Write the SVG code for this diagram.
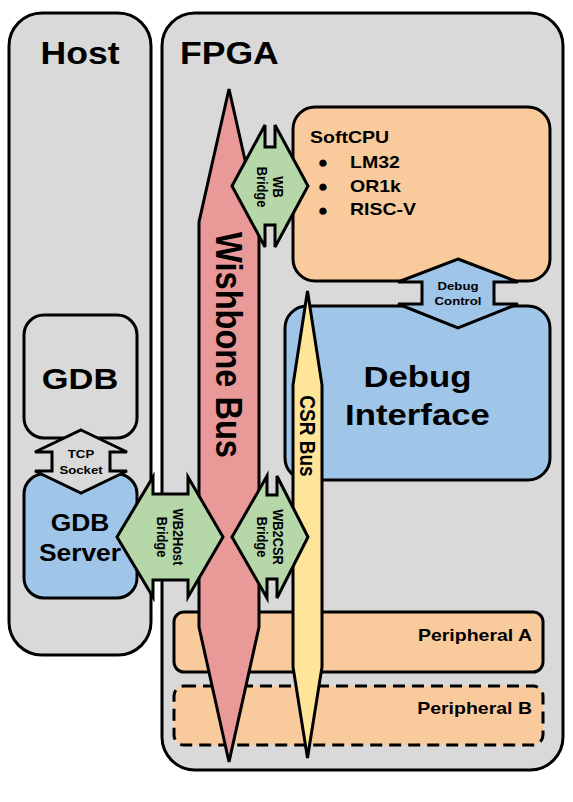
<svg xmlns="http://www.w3.org/2000/svg" width="573" height="802" viewBox="0 0 573 802">
<style>
.s{stroke:#000;stroke-width:3;stroke-linejoin:miter}
.gray{fill:#d9d9d9}
.peach{fill:#f9cb9c}
.blue{fill:#9fc5e8}
.green{fill:#b6d7a8}
.pink{fill:#ea9999}
.yellow{fill:#ffe599}
text{font-family:"Liberation Sans",Arial,Helvetica,sans-serif;font-weight:bold;fill:#000}
.m{text-anchor:middle}
.e{text-anchor:end}
.b{font-size:17px;font-weight:normal;text-anchor:middle}
</style>
<rect width="573" height="802" fill="#fff"/>
<g id="host">
<rect class="s gray" x="9" y="13" width="142" height="642" rx="33"/>
<text class="m" font-size="31" transform="translate(80,64) scale(1.147,1)">Host</text>
</g>
<g id="fpga">
<rect class="s gray" x="162" y="13" width="401" height="757" rx="33"/>
<text font-size="31" transform="translate(180,64) scale(1.147,1)">FPGA</text>
</g>
<g id="gdb">
<rect class="s gray" x="24" y="315" width="113" height="123" rx="20"/>
<text class="m" font-size="30" transform="translate(80,389) scale(1.147,1)">GDB</text>
</g>
<g id="gdb-server">
<rect class="s blue" x="24" y="474" width="113" height="124" rx="20"/>
<text class="m" font-size="23" transform="translate(80,531) scale(1.147,1)">GDB</text>
<text class="m" font-size="23" transform="translate(80,561) scale(1.147,1)">Server</text>
</g>
<g id="softcpu">
<rect class="s peach" x="293" y="107" width="257" height="174" rx="22"/>
<text font-size="17" transform="translate(310,143) scale(1.147,1)">SoftCPU</text>
<text class="b" x="323" y="168">●</text>
<text font-size="17" transform="translate(350,168) scale(1.147,1)">LM32</text>
<text class="b" x="323" y="192">●</text>
<text font-size="17" transform="translate(350,192) scale(1.147,1)">OR1k</text>
<text class="b" x="323" y="216">●</text>
<text font-size="17" transform="translate(350,215) scale(1.147,1)">RISC-V</text>
</g>
<g id="debug-interface">
<rect class="s blue" x="285" y="306" width="265" height="174" rx="22"/>
<text class="m" font-size="30.3" transform="translate(417.5,387) scale(1.147,1)">Debug</text>
<text class="m" font-size="30.3" transform="translate(417.5,425) scale(1.147,1)">Interface</text>
</g>
<g id="peripheral-a">
<rect class="s peach" x="174" y="612" width="369" height="60" rx="10"/>
<text class="e" font-size="17" transform="translate(532,641) scale(1.147,1)">Peripheral A</text>
</g>
<g id="peripheral-b">
<rect class="s peach" x="174" y="686" width="369" height="59" rx="10" stroke-dasharray="12 7"/>
<text class="e" font-size="17" transform="translate(532,714) scale(1.147,1)">Peripheral B</text>
</g>
<g id="wishbone-bus">
<polygon class="s pink" points="229,89 259,222 259,627 229,762 199,627 199,222"/>
<text class="m" font-size="32.6" transform="translate(229,345) scale(1.147,1) rotate(90)" y="11.7">Wishbone Bus</text>
</g>
<g id="csr-bus">
<polygon class="s yellow" points="307.5,291 322,385 322,667 307.5,758 293,667 293,385"/>
<text class="m" font-size="19" transform="translate(307.5,436) scale(1.147,1) rotate(90)" y="6.8">CSR Bus</text>
</g>
<g id="connectors">
<g id="tcp-socket">
<polygon class="s gray" points="81,430 127,452 110,452 110,471 127,471 81,493 35,471 52,471 52,452 35,452"/>
<text class="m" font-size="11.5" transform="translate(81,458) scale(1.147,1)">TCP</text>
<text class="m" font-size="11.5" transform="translate(81,474) scale(1.147,1)">Socket</text>
</g>
<g id="debug-control">
<polygon class="s blue" points="458,259 518,282 494,282 494,304 518,304 458,328 398,304 422,304 422,282 398,282"/>
<text class="m" font-size="11.5" transform="translate(458,290) scale(1.147,1)">Debug</text>
<text class="m" font-size="11.5" transform="translate(458,305) scale(1.147,1)">Control</text>
</g>
<g id="wb-bridge">
<polygon class="s green" points="232,186 265,125 265,147 275,147 275,125 308,186 275,247 275,225 265,225 265,247"/>
<g font-size="12.8" transform="translate(270,187) scale(1.147,1) rotate(90)">
<text class="m" y="-2.4">WB</text>
<text class="m" y="11.5">Bridge</text>
</g>
</g>
<g id="wb2host-bridge">
<polygon class="s green" points="117,537 153,477 153,494 188,494 188,477 223,537 188,597 188,580 153,580 153,597"/>
<g font-size="12.8" transform="translate(170,537) scale(1.147,1) rotate(90)">
<text class="m" y="-2.4">WB2Host</text>
<text class="m" y="11.5">Bridge</text>
</g>
</g>
<g id="wb2csr-bridge">
<polygon class="s green" points="232,537 267,476 267,495 277,495 277,476 308,537 277,598 277,579 267,579 267,598"/>
<g font-size="12.8" transform="translate(270,537) scale(1.147,1) rotate(90)">
<text class="m" y="-2.4">WB2CSR</text>
<text class="m" y="11.5">Bridge</text>
</g>
</g>
</g>
</svg>
